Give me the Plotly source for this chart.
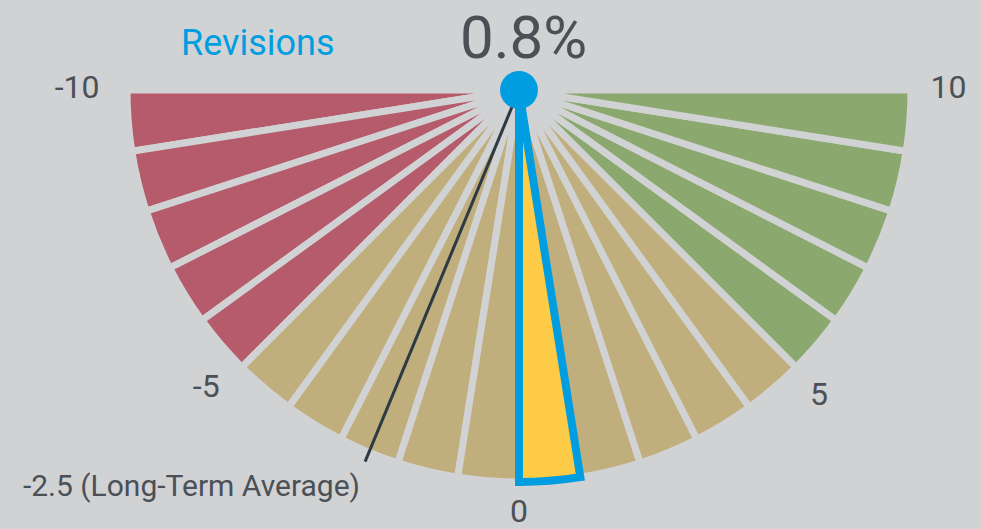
import plotly.graph_objects as go

# ---- data ----
bin_starts = list(range(-10, 10))           # gauge segments, each 1 unit wide
zone_colors = {"low": "#b55b6b", "mid": "#c0ae7c", "high": "#8ba86e"}
value = 0.8                                  # current revision value (%)
long_term_avg = -2.5                         # long-term average
tick_values = [-10, -5, 0, 5, 10]
tick_labels = ["-10", "-5", "0", "5", "10"]
title_text = "Revisions"
avg_label = "-2.5 (Long-Term Average)"

BG = "#d1d2d4"
BLUE = "#009ee0"
YELLOW = "#fecb47"
TEXT = "#4b5056"
FONT = "Roboto, sans-serif"

# label placement (layout only)
label_r = [1.07, 1.08, 1.04, 1.05, 1.05]
label_pos = ["middle left", "middle left", "bottom center", "bottom right", "middle right"]


def to_theta(v):
    return 270 + 9 * v


def zone(v):
    if v < -5:
        return zone_colors["low"]
    if v >= 5:
        return zone_colors["high"]
    return zone_colors["mid"]


hi_bin = int(value // 1)

fig = go.Figure()

fig.add_trace(go.Barpolar(
    r=[1] * len(bin_starts),
    theta=[to_theta(b + 0.5) for b in bin_starts],
    width=[9] * len(bin_starts),
    marker=dict(color=[zone(b) for b in bin_starts], line=dict(color=BG, width=7)),
    hoverinfo="skip", showlegend=False,
))

fig.add_trace(go.Barpolar(
    r=[1],
    theta=[to_theta(hi_bin + 0.5)],
    width=[9],
    marker=dict(color=YELLOW, line=dict(color=BLUE, width=8)),
    hoverinfo="skip", showlegend=False,
))

fig.add_trace(go.Scatterpolar(
    r=[0, 1.026],
    theta=[to_theta(long_term_avg)] * 2,
    mode="lines",
    line=dict(color="#2d3a44", width=3),
    hoverinfo="skip", showlegend=False, cliponaxis=False,
))

fig.add_trace(go.Scatterpolar(
    r=[1.06],
    theta=[to_theta(long_term_avg)],
    mode="text",
    text=[avg_label],
    textposition="bottom left",
    textfont=dict(family=FONT, size=30, color=TEXT),
    hoverinfo="skip", showlegend=False, cliponaxis=False,
))

# gauge scale labels
fig.add_trace(go.Scatterpolar(
    r=label_r,
    theta=[to_theta(v) for v in tick_values],
    mode="text",
    text=tick_labels,
    textposition=label_pos,
    textfont=dict(family=FONT, size=32, color=TEXT),
    hoverinfo="skip", showlegend=False, cliponaxis=False,
))

fig.add_trace(go.Scatterpolar(
    r=[0],
    theta=[270],
    mode="markers",
    marker=dict(color=BLUE, size=38),
    hoverinfo="skip", showlegend=False, cliponaxis=False,
))

W, H = 982, 529
cx, cy, R = 519, 90, 392
rmax = 1.1
Rp = R * rmax

fig.update_layout(
    width=W, height=H,
    margin=dict(l=0, r=0, t=0, b=0),
    paper_bgcolor=BG, plot_bgcolor=BG,
    polar=dict(
        bgcolor=BG,
        barmode="overlay",
        sector=[180, 360],
        domain=dict(x=[(cx - Rp) / W, (cx + Rp) / W],
                    y=[1 - (cy + Rp) / H, 1 - cy / H]),
        radialaxis=dict(range=[0, rmax], visible=False, showgrid=False),
        angularaxis=dict(
            rotation=0, direction="counterclockwise",
            showticklabels=False, ticks="",
            showline=False, showgrid=False,
        ),
    ),
    annotations=[
        dict(text=f"{value}%", x=523 / W, y=1 - 37 / H, xref="paper", yref="paper",
             showarrow=False, xanchor="center", yanchor="middle",
             font=dict(family=FONT, size=60, color=TEXT)),
        dict(text=title_text, x=258 / W, y=1 - 43 / H, xref="paper", yref="paper",
             showarrow=False, xanchor="center", yanchor="middle",
             font=dict(family=FONT, size=36, color=BLUE)),
    ],
)

fig.write_html(
    "out.html",
    config={"displayModeBar": False},
    post_script="document.body.style.margin='0';document.body.style.overflow='hidden';",
)
